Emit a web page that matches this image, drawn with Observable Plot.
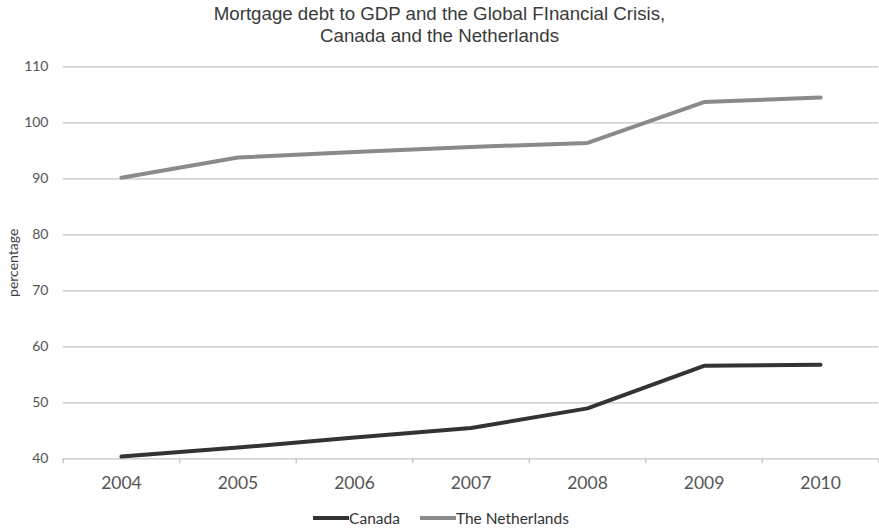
<!DOCTYPE html>
<html>
<head>
<meta charset="utf-8">
<script src="https://cdn.jsdelivr.net/npm/d3@7"></script>
<script src="https://cdn.jsdelivr.net/npm/@observablehq/plot@0.6"></script>
<style>
  html, body { margin: 0; padding: 0; background: #fff; }
  #wrap { width: 879px; height: 531px; overflow: hidden; }
  #title { height: 50px; box-sizing: border-box; padding-top: 3px; text-align: center;
           font-family: "Liberation Sans", Arial, sans-serif; font-size: 18.7px; line-height: 22px; color: #3a3a3a; }
  #chart svg { display: block; }
  #legend { height: 26px; display: flex; justify-content: center; align-items: center;
            font-family: Lato, sans-serif; font-size: 15.5px; color: #333; padding-left: 3px; }
  .item { display: flex; align-items: center; margin: 0 10px; }
  .sw { display: inline-block; width: 36px; height: 4px; }
</style>
</head>
<body>
<div id="wrap">
  <div id="title">Mortgage debt to GDP and the Global FInancial Crisis,<br>Canada and the Netherlands</div>
  <div id="chart"></div>
  <div id="legend"></div>
</div>
<script>
const years = [2004, 2005, 2006, 2007, 2008, 2009, 2010];
const canada = [40.4, 42.0, 43.8, 45.5, 49.0, 56.6, 56.8];
const netherlands = [90.2, 93.8, 94.8, 95.7, 96.4, 103.7, 104.5];
const yTicks = [40, 50, 60, 70, 80, 90, 100, 110];
const seriesNames = ["Canada", "The Netherlands"];
const seriesColors = ["#333333", "#8a8a8a"];
const yLabel = "percentage";

const rows = [];
years.forEach((yr, i) => {
  rows.push({year: yr, value: canada[i], series: seriesNames[0]});
  rows.push({year: yr, value: netherlands[i], series: seriesNames[1]});
});
const boundaries = years.map(y => y - 0.5).concat([years[years.length - 1] + 0.5]);

const chart = Plot.plot({
  width: 879,
  height: 455,
  marginLeft: 62.7,
  marginRight: 0.7,
  marginTop: 16.3,
  marginBottom: 46.7,
  style: {fontFamily: "Lato, sans-serif", background: "#fff"},
  x: {type: "linear", domain: [years[0] - 0.5, years[years.length - 1] + 0.5], axis: null, label: null},
  y: {domain: [40, 110], axis: null, label: null},
  color: {domain: seriesNames, range: seriesColors},
  marks: [
    Plot.gridY(yTicks, {stroke: "#c4c4c4", strokeOpacity: 1, strokeWidth: 1.3}),
    Plot.axisX(boundaries, {tickSize: 5, stroke: "#c4c4c4", strokeWidth: 1.3, fill: "none", label: null}),
    Plot.axisX(years, {tickSize: 0, tickPadding: 18, tickFormat: d => String(d), fontSize: 17.5, fill: "#555", label: null}),
    Plot.axisY(yTicks, {tickSize: 0, tickPadding: 14.7, fontSize: 14, fill: "#555", label: null}),
    Plot.text([yLabel], {frameAnchor: "left", textAnchor: "middle", text: d => d, rotate: -90, dx: -49.7, fontSize: 14, fill: "#404040"}),
    Plot.line(rows, {x: "year", y: "value", z: "series", stroke: "series", strokeWidth: 4, strokeLinecap: "round", strokeLinejoin: "round"})
  ]
});
document.getElementById("chart").appendChild(chart);

const legend = document.getElementById("legend");
seriesNames.forEach((name, i) => {
  const item = document.createElement("div");
  item.className = "item";
  const sw = document.createElement("span");
  sw.className = "sw";
  sw.style.background = seriesColors[i];
  const label = document.createElement("span");
  label.textContent = name;
  item.appendChild(sw);
  item.appendChild(label);
  legend.appendChild(item);
});
</script>
</body>
</html>
